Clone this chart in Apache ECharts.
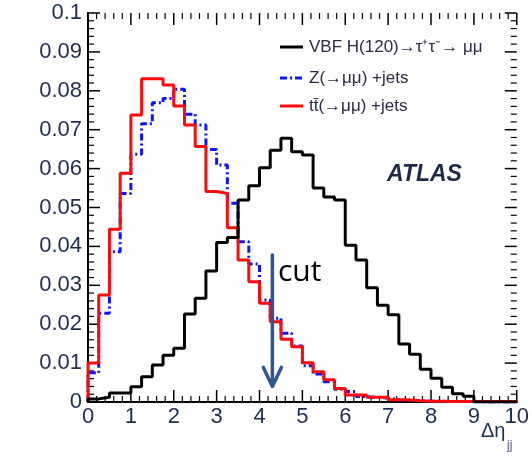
<!DOCTYPE html>
<html>
<head>
<meta charset="utf-8">
<script src="https://cdn.jsdelivr.net/npm/echarts@6/dist/echarts.min.js"></script>
<style>
html,body{margin:0;padding:0;background:#fff;}
#c{width:532px;height:457px;}
</style>
</head>
<body>
<div id="c"></div>
<script>
// ---- data (bin width 0.25 in Δη_jj, 40 bins from 0 to 10) ----
const binWidth = 0.25;
const seriesNames = ['VBF H(120)\u2192\u03c4\u207a\u03c4\u207b\u2192 \u03bc\u03bc', 'Z(\u2192\u03bc\u03bc) +jets', 'tt\u0304(\u2192\u03bc\u03bc) +jets'];
const vbfH = [0.0008,0.0012,0.0023,0.0023,0.0039,0.0065,0.0095,0.0120,0.0138,0.0226,
              0.0267,0.0337,0.0410,0.0423,0.0519,0.0556,0.0602,0.0647,0.0678,0.0643,
              0.0635,0.0550,0.0527,0.0519,0.0403,0.0365,0.0294,0.0249,0.0224,0.0149,
              0.0123,0.0084,0.0061,0.0038,0.0021,0.0015,0,0,0,0];
const zJets = [0.0075,0.0228,0.0386,0.0536,0.0637,0.0715,0.0769,0.0780,0.0804,0.0740,
               0.0712,0.0649,0.0609,0.0511,0.0412,0.0355,0.0262,0.0215,0.0177,0.0144,
               0.0093,0.0072,0.0052,0.0033,0.0027,0.0014,0.0012,0.0010,0.0006,0.0005,
               0.0004,0.0002,0.0002,0.0001,0.0001,0.0001,0,0,0,0];
const ttJets = [0.0100,0.0275,0.0444,0.0588,0.0738,0.0831,0.0831,0.0815,0.0761,0.0712,
                0.0657,0.0541,0.0536,0.0448,0.0365,0.0309,0.0254,0.0206,0.0161,0.0142,
                0.0101,0.0078,0.0057,0.0035,0.0018,0.0018,0.0012,0.0012,0.0006,0.0005,
                0.0003,0.0002,0.0002,0.0001,0.0001,0.0001,0.0001,0.0001,0.0001,0.0001];
// axis ticks (major ticks carry labels; 5 minor divisions per major)
const xMajorTicks = [0,1,2,3,4,5,6,7,8,9,10];
const yMajorTicks = [0,0.01,0.02,0.03,0.04,0.05,0.06,0.07,0.08,0.09,0.1];
const minorDivisions = 5;
// cut arrow: x position, top and tip values
const cutX = 4.3, cutTop = 0.0378, cutTip = 0.0040;

function toSteps(vals){
  const pts = [[0,0]];
  vals.forEach((v,i)=>pts.push([i*binWidth, v]));
  pts.push([vals.length*binWidth, vals[vals.length-1]]);
  return pts;
}

const labelColor = '#1f2d50';
const font = 'Liberation Sans';
const colors = ['#000000', '#0a14ff', '#ff0a0a'];
const dashes = ['solid', [7,3,2,3], 'solid'];

function axisCfg(kind, pos, showLabel){
  const isX = kind === 'x';
  return {
    type:'value', position:pos,
    min: isX ? xMajorTicks[0] : yMajorTicks[0],
    max: isX ? xMajorTicks[xMajorTicks.length-1] : yMajorTicks[yMajorTicks.length-1],
    interval: isX ? 1 : 0.01,
    axisLine:{show:true, lineStyle:{color:'#000', width:2}},
    axisTick:{show:false},
    minorTick:{show:false},
    splitLine:{show:false},
    axisLabel:{show:showLabel, fontFamily:font, fontSize:22, color:labelColor, margin: isX ? 4 : 6}
  };
}

function minorList(majors){
  const out = [];
  for (let i=0;i<majors.length-1;i++){
    const a = majors[i], b = majors[i+1];
    for (let k=1;k<minorDivisions;k++) out.push(a + (b-a)*k/minorDivisions);
  }
  return out;
}

const legendY = [47, 78, 106];
const legendGraphics = [];
seriesNames.forEach((n,i)=>{
  legendGraphics.push({type:'line', shape:{x1:280, y1:legendY[i], x2:303, y2:legendY[i]},
    style:{stroke:colors[i], lineWidth:3, lineDash: Array.isArray(dashes[i]) ? dashes[i] : null}});
  legendGraphics.push({type:'text', x:309, y:legendY[i],
    style:{text:n, font:'17px "Liberation Sans"', fill:'#2b2b45', verticalAlign:'middle'}});
});

const chart = echarts.init(document.getElementById('c'), null, {renderer:'canvas'});
chart.setOption({
  animation:false,
  backgroundColor:'#fff',
  grid:{left:88, right:15, top:13, bottom:55},
  xAxis:[axisCfg('x','bottom', true), axisCfg('x','top', false)],
  yAxis:[axisCfg('y','left', true), axisCfg('y','right', false)],
  series:[
    {name:seriesNames[0], type:'line', step:'end', data:toSteps(vbfH), symbol:'none', z:4,
     lineStyle:{color:colors[0], width:3}},
    {name:seriesNames[1], type:'line', step:'end', data:toSteps(zJets), symbol:'none', z:2,
     lineStyle:{color:colors[1], width:3, type:dashes[1]}},
    {name:seriesNames[2], type:'line', step:'end', data:toSteps(ttJets), symbol:'none', z:3,
     lineStyle:{color:colors[2], width:3}},
    // frame ticks, placed through the axes' scales
    {type:'custom', z:1, data:[[0]], clip:false, silent:true,
     renderItem:function(params, api){
       const children = [];
       const st = w => ({stroke:'#000', lineWidth:w});
       const x0 = xMajorTicks[0], x1 = xMajorTicks[xMajorTicks.length-1];
       const y0 = yMajorTicks[0], y1 = yMajorTicks[yMajorTicks.length-1];
       const addX = (v, len, w) => {
         const b = api.coord([v, y0]), t = api.coord([v, y1]);
         children.push({type:'line', shape:{x1:b[0], y1:b[1], x2:b[0], y2:b[1]-len}, style:st(w)});
         children.push({type:'line', shape:{x1:t[0], y1:t[1], x2:t[0], y2:t[1]+len}, style:st(w)});
       };
       const addY = (v, len, w) => {
         const l = api.coord([x0, v]), r = api.coord([x1, v]);
         children.push({type:'line', shape:{x1:l[0], y1:l[1], x2:l[0]+len, y2:l[1]}, style:st(w)});
         children.push({type:'line', shape:{x1:r[0], y1:r[1], x2:r[0]-len, y2:r[1]}, style:st(w)});
       };
       xMajorTicks.forEach(v=>addX(v, 12, 1.5));
       minorList(xMajorTicks).forEach(v=>addX(v, 6, 1.2));
       yMajorTicks.forEach(v=>addY(v, 12, 1.5));
       minorList(yMajorTicks).forEach(v=>addY(v, 6, 1.2));
       return {type:'group', children};
     }},
    {type:'custom', z:6, data:[[cutX, cutTop, cutTip]], clip:false,
     renderItem:function(params, api){
       const top = api.coord([api.value(0), api.value(1)]);
       const tip = api.coord([api.value(0), api.value(2)]);
       const st = {stroke:'#2f5597', lineWidth:3.5, fill:null, lineCap:'round', lineJoin:'round'};
       return {type:'group', children:[
         {type:'line', shape:{x1:top[0], y1:top[1], x2:tip[0], y2:tip[1]-1}, style:st},
         {type:'polyline', shape:{points:[[tip[0]-9, tip[1]-19],[tip[0], tip[1]],[tip[0]+9, tip[1]-19]]}, style:st}
       ]};
     }}
  ],
  graphic:legendGraphics.concat([
    {type:'text', left:387, top:163, style:{text:'ATLAS', font:'italic bold 23px "Liberation Sans"', fill:'#1f2a48'}},
    {type:'text', left:278, top:257, style:{text:'cut', font:'30px "Open Sans"', fill:'#000'}},
    {type:'text', left:481, top:421, style:{text:'\u0394\u03b7', font:'20px "Liberation Sans"', fill:'#1f2d50'}},
    {type:'text', left:507, top:440, style:{text:'jj', font:'12px "Liberation Sans"', fill:'#5b4b7b'}}
  ])
});
</script>
</body>
</html>
